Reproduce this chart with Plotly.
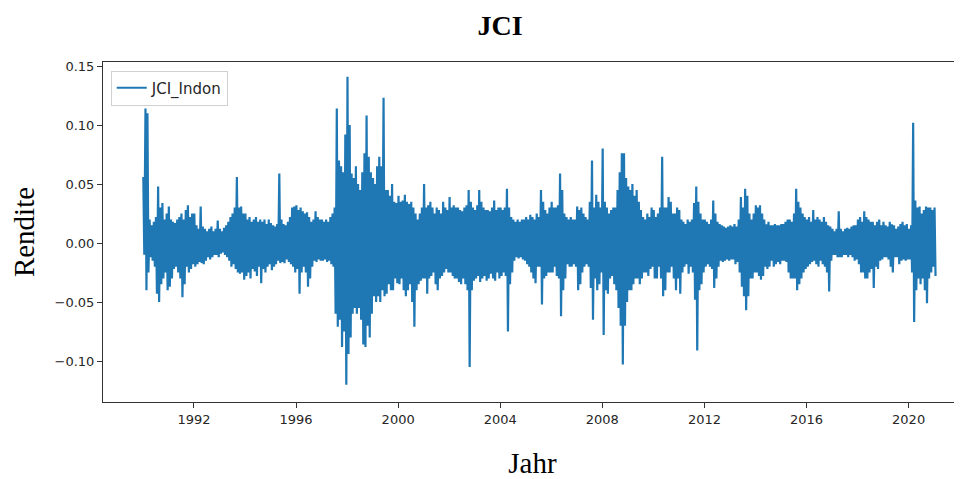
import plotly.graph_objects as go

# Monthly maxima / minima of the daily JCI returns
hi_1990 = [.056, .114, .110, .020, .015, .018, .022, .048, .030, .034, .020, .025]
lo_1990 = [-.010, -.040, -.025, -.012, -.015, -.020, -.043, -.050, -.035, -.030, -.025, -.040]
hi_1991 = [.031, .020, .018, .017, .020, .022, .025, .020, .028, .032, .022, .025]
lo_1991 = [-.037, -.030, -.022, -.020, -.025, -.030, -.046, -.035, -.020, -.025, -.022, -.018]
hi_1992 = [.025, .015, .012, .031, .014, .012, .010, .012, .014, .010, .012, .019]
lo_1992 = [-.020, -.018, -.016, -.017, -.018, -.015, -.012, -.014, -.012, -.010, -.010, -.012]
hi_1993 = [.012, .010, .013, .015, .018, .022, .025, .030, .056, .030, .031, .025]
lo_1993 = [-.009, -.008, -.010, -.012, -.015, -.020, -.018, -.022, -.025, -.026, -.025, -.031]
hi_1994 = [.025, .020, .022, .018, .020, .022, .018, .020, .018, .020, .016, .020]
lo_1994 = [-.028, -.025, -.030, -.022, -.024, -.028, -.020, -.034, -.022, -.025, -.020, -.018]
hi_1995 = [.017, .015, .014, .016, .059, .020, .016, .015, .018, .022, .030, .031]
lo_1995 = [-.023, -.020, -.018, -.015, -.017, -.016, -.017, -.014, -.016, -.018, -.020, -.025]
hi_1996 = [.032, .028, .030, .027, .025, .026, .022, .018, .020, .027, .022, .020]
lo_1996 = [-.022, -.043, -.025, -.020, -.025, -.037, -.030, -.020, -.015, -.016, -.014, -.015]
hi_1997 = [.020, .018, .020, .018, .022, .025, .030, .114, .070, .065, .060, .092]
lo_1997 = [-.015, -.014, -.016, -.015, -.018, -.020, -.060, -.071, -.065, -.088, -.075, -.120]
hi_1998 = [.141, .100, .059, .055, .065, .050, .045, .060, .076, .108, .073, .060]
lo_1998 = [-.094, -.080, -.060, -.055, -.060, -.055, -.065, -.086, -.088, -.070, -.080, -.060]
hi_1999 = [.055, .050, .065, .073, .065, .123, .045, .045, .040, .050, .035, .034]
lo_1999 = [-.045, -.050, -.045, -.050, -.040, -.045, -.043, -.035, -.040, -.040, -.030, -.034]
hi_2000 = [.040, .035, .036, .041, .035, .033, .035, .030, .025, .020, .025, .030]
lo_2000 = [-.035, -.030, -.040, -.045, -.040, -.035, -.050, -.071, -.040, -.035, -.032, -.030]
hi_2001 = [.050, .030, .032, .035, .030, .025, .030, .028, .025, .035, .030, .028]
lo_2001 = [-.030, -.043, -.030, -.028, -.025, -.035, -.040, -.030, -.028, -.025, -.022, -.025]
hi_2002 = [.039, .030, .032, .030, .030, .028, .027, .030, .032, .045, .035, .030]
lo_2002 = [-.025, -.028, -.030, -.030, -.033, -.035, -.030, -.035, -.040, -.105, -.040, -.032]
hi_2003 = [.028, .032, .045, .035, .030, .028, .028, .027, .030, .036, .028, .030]
lo_2003 = [-.030, -.028, -.033, -.030, -.028, -.032, -.030, -.026, -.030, -.032, -.025, -.030]
hi_2004 = [.030, .028, .030, .046, .030, .022, .020, .018, .020, .018, .020, .020]
lo_2004 = [-.028, -.025, -.028, -.075, -.035, -.025, -.015, -.012, -.013, -.012, -.014, -.015]
hi_2005 = [.022, .020, .024, .022, .020, .025, .022, .045, .035, .028, .025, .030]
lo_2005 = [-.018, -.020, -.025, -.030, -.034, -.020, -.020, -.052, -.030, -.028, -.025, -.025]
hi_2006 = [.035, .030, .030, .032, .059, .045, .025, .022, .020, .022, .020, .020]
lo_2006 = [-.025, -.020, -.028, -.030, -.062, -.040, -.030, -.018, -.020, -.020, -.018, -.020]
hi_2007 = [.031, .028, .030, .025, .022, .020, .035, .070, .030, .041, .035, .030]
lo_2007 = [-.040, -.035, -.025, -.020, -.018, -.020, -.038, -.065, -.030, -.040, -.035, -.025]
hi_2008 = [.080, .035, .030, .025, .028, .030, .030, .045, .060, .076, .076, .055]
lo_2008 = [-.078, -.040, -.043, -.030, -.028, -.035, -.040, -.055, -.070, -.103, -.070, -.050]
hi_2009 = [.048, .045, .050, .040, .045, .035, .028, .022, .020, .025, .022, .030]
lo_2009 = [-.040, -.040, -.035, -.030, -.030, -.035, -.030, -.025, -.025, -.028, -.022, -.020]
hi_2010 = [.028, .022, .025, .030, .073, .030, .030, .039, .035, .025, .025, .030]
lo_2010 = [-.030, -.030, -.020, -.030, -.045, -.040, -.025, -.025, -.020, -.030, -.040, -.030]
hi_2011 = [.028, .020, .018, .016, .020, .018, .020, .034, .048, .035, .025, .020]
lo_2011 = [-.043, -.025, -.020, -.018, -.026, -.020, -.025, -.048, -.091, -.040, -.035, -.025]
hi_2012 = [.020, .018, .016, .020, .036, .025, .018, .016, .015, .014, .013, .014]
lo_2012 = [-.020, -.018, -.020, -.022, -.038, -.030, -.020, -.015, -.016, -.015, -.014, -.015]
hi_2013 = [.015, .014, .016, .014, .020, .039, .030, .046, .040, .025, .020, .025]
lo_2013 = [-.014, -.014, -.018, -.016, -.025, -.037, -.045, -.057, -.045, -.030, -.030, -.025]
hi_2014 = [.032, .030, .032, .025, .020, .016, .018, .015, .015, .016, .015, .015]
lo_2014 = [-.025, -.028, -.031, -.028, -.020, -.022, -.020, -.015, -.020, -.018, -.016, -.018]
hi_2015 = [.016, .016, .018, .020, .020, .018, .025, .046, .035, .030, .025, .022]
lo_2015 = [-.015, -.015, -.016, -.025, -.030, -.030, -.030, -.040, -.035, -.030, -.025, -.022]
hi_2016 = [.020, .022, .018, .028, .020, .022, .020, .018, .022, .018, .015, .014]
lo_2016 = [-.020, -.018, -.016, -.015, -.018, -.020, -.015, -.018, -.020, -.025, -.041, -.015]
hi_2017 = [.012, .010, .012, .027, .012, .010, .012, .013, .012, .014, .015, .015]
lo_2017 = [-.010, -.010, -.012, -.012, -.012, -.010, -.010, -.012, -.010, -.012, -.015, -.014]
hi_2018 = [.020, .022, .018, .027, .022, .020, .018, .018, .015, .018, .020, .015]
lo_2018 = [-.018, -.025, -.025, -.030, -.030, -.025, -.022, -.038, -.020, -.022, -.015, -.014]
hi_2019 = [.018, .015, .014, .018, .016, .015, .012, .014, .016, .018, .015, .016]
lo_2019 = [-.012, -.012, -.014, -.020, -.025, -.012, -.012, -.018, -.015, -.014, -.015, -.014]
hi_2020 = [.012, .015, .102, .036, .030, .031, .025, .028, .031, .030, .030, .028]
lo_2020 = [-.014, -.025, -.067, -.040, -.030, -.035, -.030, -.040, -.051, -.030, -.025, -.020]
hi_2021 = [.030]
lo_2021 = [-.028]

years = list(range(1990, 2022))
highs = {1990: hi_1990, 1991: hi_1991, 1992: hi_1992, 1993: hi_1993, 1994: hi_1994,
         1995: hi_1995, 1996: hi_1996, 1997: hi_1997, 1998: hi_1998, 1999: hi_1999,
         2000: hi_2000, 2001: hi_2001, 2002: hi_2002, 2003: hi_2003, 2004: hi_2004,
         2005: hi_2005, 2006: hi_2006, 2007: hi_2007, 2008: hi_2008, 2009: hi_2009,
         2010: hi_2010, 2011: hi_2011, 2012: hi_2012, 2013: hi_2013, 2014: hi_2014,
         2015: hi_2015, 2016: hi_2016, 2017: hi_2017, 2018: hi_2018, 2019: hi_2019,
         2020: hi_2020, 2021: hi_2021}
lows = {1990: lo_1990, 1991: lo_1991, 1992: lo_1992, 1993: lo_1993, 1994: lo_1994,
        1995: lo_1995, 1996: lo_1996, 1997: lo_1997, 1998: lo_1998, 1999: lo_1999,
        2000: lo_2000, 2001: lo_2001, 2002: lo_2002, 2003: lo_2003, 2004: lo_2004,
        2005: lo_2005, 2006: lo_2006, 2007: lo_2007, 2008: lo_2008, 2009: lo_2009,
        2010: lo_2010, 2011: lo_2011, 2012: lo_2012, 2013: lo_2013, 2014: lo_2014,
        2015: lo_2015, 2016: lo_2016, 2017: lo_2017, 2018: lo_2018, 2019: lo_2019,
        2020: lo_2020, 2021: lo_2021}

tick_years = [1992, 1996, 2000, 2004, 2008, 2012, 2016, 2020]
y_ticks = [-0.10, -0.05, 0.00, 0.05, 0.10, 0.15]

dates, vals = [], []
for y in years:
    for m, (h, l) in enumerate(zip(highs[y], lows[y]), start=1):
        dates.append(f"{y}-{m:02d}-06")
        vals.append(h)
        dates.append(f"{y}-{m:02d}-20")
        vals.append(l)

fig = go.Figure()
fig.add_trace(go.Scatter(x=dates, y=vals, mode="lines", name="JCI_Indon",
                         line=dict(color="#1f77b4", width=2.2)))

# page body has an 8px margin: figure is placed at (8, 8) on screen
OFF = 8
W, H = 962 - OFF, 479 - OFF
L, R, T, B = 103 - OFF, 0, 62 - OFF, 77

serif = "Liberation Serif"

fig.update_layout(
    width=W, height=H, autosize=False,
    margin=dict(l=L, r=R, t=T, b=B),
    paper_bgcolor="white", plot_bgcolor="white",
    title=dict(text="<b>JCI</b>", xref="container", yref="container",
               x=(500 - OFF) / W, y=1 - (25 - OFF) / H, xanchor="center", yanchor="middle",
               font=dict(family=serif, size=28, color="black")),
    showlegend=True,
    legend=dict(x=0.009, y=0.975, xanchor="left", yanchor="top",
                bgcolor="rgba(255,255,255,0.9)", bordercolor="#d0d0d0", borderwidth=1,
                font=dict(family="DejaVu Sans", size=15, color="#262626")),
    xaxis=dict(type="date", range=["1988-06-08", "2022-02-03"],
               tickvals=[f"{y}-01-01" for y in tick_years],
               ticktext=[str(y) for y in tick_years],
               title=dict(text="Jahr", standoff=28,
                          font=dict(family=serif, size=29, color="black")),
               showgrid=False, zeroline=False, showline=True, linecolor="#333333",
               linewidth=1, mirror=True, ticks="outside", ticklen=5, tickcolor="#333333",
               tickfont=dict(family="DejaVu Sans", size=13, color="#262626")),
    yaxis=dict(range=[-0.1347, 0.1534], tickvals=y_ticks,
               ticktext=[f"{v:.2f}".replace("-", "\u2212") for v in y_ticks],
               title=dict(text="Rendite", standoff=25,
                          font=dict(family=serif, size=29, color="black")),
               showgrid=False, zeroline=False, showline=True, linecolor="#333333",
               linewidth=1, mirror=False, ticks="outside", ticklen=5, tickcolor="#333333",
               tickfont=dict(family="DejaVu Sans", size=13, color="#262626")),
)

fig.write_html("out.html")
